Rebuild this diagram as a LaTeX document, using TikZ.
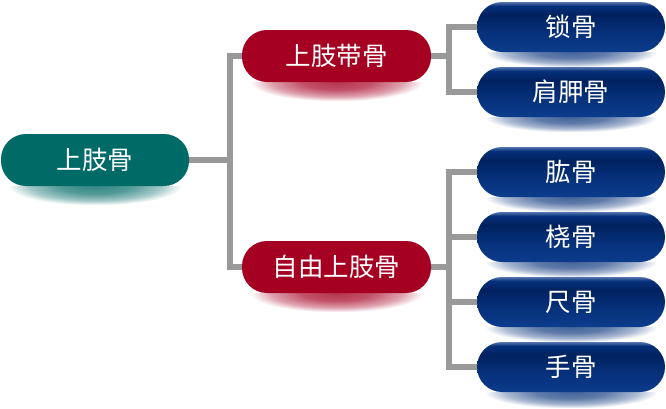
\documentclass[tikz,border=0pt]{standalone}
\usepackage{fontspec}
\newfontfamily\cjk{Noto Sans CJK SC}
\usetikzlibrary{fadings,backgrounds,calc}
\definecolor{teal1}{HTML}{006A66}
\definecolor{red1}{HTML}{A50021}
\definecolor{bTop}{HTML}{5575AE}
\definecolor{bDark}{HTML}{00215F}
\definecolor{bMid}{HTML}{06307A}
\definecolor{bBot}{HTML}{0C3C8C}
\definecolor{lineg}{HTML}{999999}
\pgfdeclareradialshading{glowshade}{\pgfpoint{0bp}{0bp}}{color(0bp)=(white); color(10bp)=(white!85!black); color(19bp)=(white!45!black); color(25bp)=(black); color(50bp)=(black)}
\pgfdeclarefading{glowfade}{\pgfuseshading{glowshade}}
\pgfdeclareverticalshading{bluegloss}{100bp}{color(0bp)=(bBot); color(25bp)=(bBot); color(45bp)=(bMid); color(62bp)=(bDark); color(71bp)=(bMid); color(75bp)=(bTop); color(100bp)=(bTop)}
\tikzset{
  pill/.style={rectangle, rounded corners=25pt, minimum width=188pt, text=white, font=\cjk\fontsize{25.5}{30}\selectfont, inner sep=0pt},
  rootbox/.style={pill, fill=teal1, minimum height=52pt},
  redbox/.style={pill, fill=red1, minimum height=52pt, minimum width=189pt},
  bluebox/.style={pill, shading=bluegloss, minimum height=50pt},
  conn/.style={draw=lineg, line width=5.5pt},
}
\newcommand{\glow}[3]{% node, color, height
  \begin{scope}
    \clip ($(#1.south west)+(0,0)$) rectangle ($(#1.south east)+(0,#3)$);
    \fill[#2, path fading=glowfade] ($(#1.south)+(-86,-#3)$) rectangle ($(#1.south)+(86,#3)$);
  \end{scope}}
\begin{document}
\begin{tikzpicture}[x=1pt,y=-1pt]
\useasboundingbox (0,0) rectangle (666,408);
\node[rootbox] (root) at (95,160) {上肢骨};
\node[redbox] (r1) at (336.5,56) {上肢带骨};
\node[redbox] (r2) at (336.5,267) {自由上肢骨};
\node[bluebox] (b1) at (571,27) {锁骨};
\node[bluebox] (b2) at (571,92) {肩胛骨};
\node[bluebox] (b3) at (571,172) {肱骨};
\node[bluebox] (b4) at (571,237) {桡骨};
\node[bluebox] (b5) at (571,302) {尺骨};
\node[bluebox] (b6) at (571,367) {手骨};
\coordinate (t1) at (230,160);
\coordinate (t2) at (449,56);
\coordinate (t3) at (449,267);
\begin{pgfonlayer}{background}
  \glow{root}{teal1!80}{19}
  \glow{r1}{red1!80}{19}
  \glow{r2}{red1!80}{19}
  \foreach \b in {b1,b2,b3,b4,b5} {\glow{\b}{bMid!75}{15}}
  \glow{b6}{bMid!75}{16}
  \draw[conn] (root.east) -- (t1);
  \draw[conn] (r1.west) -| (t1) |- (r2.west);
  \draw[conn] (r1.east) -- (t2);
  \draw[conn] (b1.west) -| (t2) |- (b2.west);
  \draw[conn] (r2.east) -- (t3);
  \draw[conn] (b3.west) -| (t3) |- (b6.west);
  \draw[conn] (b4.west) -- (b4.west -| t3);
  \draw[conn] (b5.west) -- (b5.west -| t3);
\end{pgfonlayer}
\end{tikzpicture}
\end{document}
